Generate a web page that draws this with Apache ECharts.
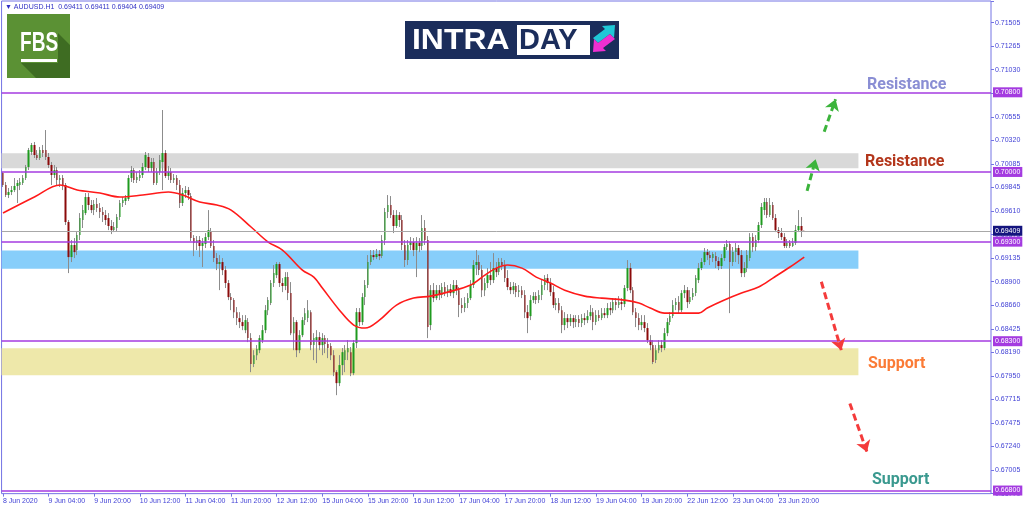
<!DOCTYPE html>
<html><head><meta charset="utf-8">
<script src="https://cdn.jsdelivr.net/npm/echarts@6/dist/echarts.min.js"></script>
<style>html,body{margin:0;padding:0;background:#fff}#c{width:1024px;height:511px}</style>
</head><body><div id="c"></div>
<script>
// ---- data ----
const xTickLabels = ['8 Jun 2020','9 Jun 04:00','9 Jun 20:00','10 Jun 12:00','11 Jun 04:00','11 Jun 20:00','12 Jun 12:00','15 Jun 04:00','15 Jun 20:00','16 Jun 12:00','17 Jun 04:00','17 Jun 20:00','18 Jun 12:00','19 Jun 04:00','19 Jun 20:00','22 Jun 12:00','23 Jun 04:00','23 Jun 20:00'];
const barsPerLabel = 16;
const slotCount = 347;
const yTickLabels = ['0.66770','0.67005','0.67240','0.67475','0.67715','0.67950','0.68190','0.68425','0.68660','0.68900','0.69135','0.69375','0.69610','0.69845','0.70085','0.70320','0.70555','0.70790','0.71030','0.71265','0.71505'];
const Y_MIN = 0.667688, Y_MAX = 0.717171, Y_STEP = 0.0023657;

const openP = [0.69989,0.69869,0.69768,0.69798,0.69818,0.69859,0.69869,0.69889,0.69939,0.70050,
0.70200,0.70271,0.70170,0.70140,0.70220,0.70220,0.70150,0.70070,0.69969,0.70019,
0.69919,0.69939,0.69869,0.69497,0.69145,0.69266,0.69215,0.69366,0.69517,0.69587,
0.69748,0.69668,0.69617,0.69678,0.69638,0.69597,0.69567,0.69537,0.69457,0.69416,
0.69437,0.69547,0.69688,0.69708,0.69728,0.69939,0.70019,0.69919,0.69939,0.69969,
0.70050,0.70150,0.70040,0.70100,0.69889,0.69999,0.70100,0.70190,0.69959,0.69999,
0.69919,0.69939,0.69869,0.69688,0.69788,0.69818,0.69758,0.69336,0.69286,0.69316,
0.69256,0.69276,0.69346,0.69396,0.69256,0.69135,0.69075,0.69095,0.69014,0.68884,
0.68743,0.68713,0.68592,0.68532,0.68492,0.68411,0.68492,0.68331,0.68070,0.68160,
0.68210,0.68311,0.68411,0.68612,0.68683,0.68884,0.68964,0.69075,0.68884,0.68854,
0.68944,0.68783,0.68381,0.68492,0.68210,0.68361,0.68512,0.68532,0.68592,0.68261,
0.68311,0.68341,0.68261,0.68331,0.68271,0.68251,0.68160,0.67989,0.67879,0.68060,
0.68110,0.68190,0.68190,0.67979,0.68281,0.68592,0.68492,0.68743,0.68864,0.69095,
0.69165,0.69145,0.69175,0.69155,0.69316,0.69597,0.69668,0.69567,0.69457,0.69567,
0.69517,0.69266,0.69115,0.69266,0.69296,0.69215,0.69286,0.69256,0.69437,0.69316,
0.68462,0.68813,0.68733,0.68813,0.68763,0.68844,0.68793,0.68823,0.68783,0.68864,
0.68813,0.68663,0.68633,0.68683,0.68733,0.68864,0.69065,0.69095,0.69014,0.68813,
0.68884,0.68964,0.68914,0.69035,0.68994,0.69095,0.69065,0.68934,0.68844,0.68813,
0.68854,0.68793,0.68813,0.68763,0.68592,0.68552,0.68713,0.68753,0.68713,0.68763,
0.68864,0.68934,0.68884,0.68793,0.68663,0.68683,0.68612,0.68462,0.68532,0.68492,
0.68532,0.68492,0.68522,0.68482,0.68532,0.68512,0.68552,0.68592,0.68492,0.68562,
0.68532,0.68582,0.68562,0.68633,0.68612,0.68693,0.68663,0.68693,0.68673,0.68834,
0.69035,0.68813,0.68592,0.68532,0.68462,0.68492,0.68432,0.68311,0.68261,0.68110,
0.68210,0.68261,0.68231,0.68381,0.68492,0.68552,0.68663,0.68693,0.68612,0.68783,
0.68813,0.68693,0.68743,0.68783,0.68914,0.69035,0.69095,0.69195,0.69165,0.69135,
0.69155,0.69105,0.69055,0.69135,0.69246,0.69276,0.69095,0.69195,0.69236,0.69165,
0.68984,0.69035,0.69135,0.69346,0.69246,0.69316,0.69467,0.69618,0.69698,0.69567,
0.69668,0.69537,0.69416,0.69386,0.69346,0.69256,0.69286,0.69256,0.69286,0.69416,
0.69457,0.69411];

const closeP = [0.69869,0.69768,0.69798,0.69818,0.69859,0.69889,0.69899,0.69939,0.70050,0.70220,
0.70271,0.70170,0.70140,0.70220,0.70190,0.70150,0.70070,0.69969,0.70019,0.69919,
0.69939,0.69869,0.69497,0.69145,0.69266,0.69195,0.69366,0.69537,0.69617,0.69748,
0.69668,0.69617,0.69678,0.69638,0.69597,0.69567,0.69517,0.69457,0.69416,0.69447,
0.69547,0.69688,0.69718,0.69738,0.69939,0.70019,0.69919,0.69949,0.69969,0.70050,
0.70170,0.70040,0.70100,0.69889,0.69999,0.70120,0.70190,0.69959,0.69999,0.69919,
0.69939,0.69869,0.69688,0.69788,0.69818,0.69768,0.69336,0.69286,0.69316,0.69256,
0.69286,0.69346,0.69416,0.69256,0.69135,0.69075,0.69095,0.69014,0.68884,0.68743,
0.68713,0.68592,0.68532,0.68492,0.68452,0.68512,0.68331,0.68070,0.68160,0.68221,
0.68331,0.68411,0.68612,0.68713,0.68884,0.68984,0.69075,0.68884,0.68854,0.68944,
0.68783,0.68381,0.68492,0.68210,0.68361,0.68512,0.68582,0.68612,0.68261,0.68331,
0.68341,0.68261,0.68331,0.68271,0.68231,0.68160,0.67989,0.67879,0.68060,0.68190,
0.68210,0.68231,0.67979,0.68281,0.68592,0.68492,0.68743,0.68864,0.69095,0.69165,
0.69145,0.69175,0.69155,0.69316,0.69597,0.69668,0.69567,0.69457,0.69567,0.69517,
0.69266,0.69115,0.69266,0.69296,0.69215,0.69286,0.69256,0.69437,0.69316,0.68442,
0.68813,0.68733,0.68813,0.68763,0.68844,0.68793,0.68823,0.68783,0.68864,0.68813,
0.68663,0.68633,0.68683,0.68733,0.68864,0.69065,0.69095,0.69014,0.68813,0.68884,
0.68964,0.68914,0.69035,0.68994,0.69095,0.69065,0.68934,0.68844,0.68813,0.68854,
0.68793,0.68813,0.68763,0.68592,0.68532,0.68713,0.68753,0.68713,0.68763,0.68864,
0.68934,0.68884,0.68793,0.68663,0.68683,0.68612,0.68462,0.68532,0.68492,0.68532,
0.68492,0.68522,0.68482,0.68532,0.68512,0.68552,0.68592,0.68492,0.68562,0.68532,
0.68582,0.68562,0.68633,0.68612,0.68693,0.68663,0.68693,0.68673,0.68834,0.69035,
0.68813,0.68592,0.68532,0.68462,0.68492,0.68432,0.68311,0.68261,0.68090,0.68210,
0.68261,0.68231,0.68381,0.68492,0.68552,0.68663,0.68693,0.68612,0.68783,0.68813,
0.68693,0.68743,0.68783,0.68934,0.69035,0.69095,0.69195,0.69165,0.69135,0.69175,
0.69105,0.69055,0.69135,0.69246,0.69276,0.69095,0.69195,0.69236,0.69165,0.68984,
0.69035,0.69165,0.69346,0.69246,0.69316,0.69467,0.69648,0.69698,0.69567,0.69668,
0.69537,0.69416,0.69386,0.69346,0.69256,0.69286,0.69256,0.69286,0.69416,0.69457,
0.69411,0.69409];

const lowP = [0.69849,0.69748,0.69738,0.69768,0.69798,0.69688,0.69818,0.69869,0.69919,0.70019,
0.70170,0.70140,0.70120,0.70120,0.70150,0.70120,0.70040,0.69869,0.69939,0.69869,
0.69849,0.69818,0.69467,0.68984,0.69095,0.69135,0.69165,0.69316,0.69437,0.69567,
0.69617,0.69587,0.69567,0.69597,0.69537,0.69497,0.69467,0.69416,0.69376,0.69396,
0.69406,0.69517,0.69648,0.69668,0.69708,0.69899,0.69889,0.69889,0.69909,0.69939,
0.70019,0.69999,0.69999,0.69869,0.69869,0.69969,0.69818,0.69939,0.69919,0.69889,
0.69889,0.69818,0.69638,0.69658,0.69738,0.69718,0.69306,0.69155,0.69215,0.69145,
0.69045,0.69236,0.69316,0.69236,0.69095,0.69014,0.68813,0.68964,0.68834,0.68713,
0.68612,0.68532,0.68462,0.68432,0.68411,0.68381,0.68291,0.67989,0.68040,0.68110,
0.68180,0.68281,0.68381,0.68562,0.68663,0.68844,0.68934,0.68844,0.68793,0.68813,
0.68713,0.68361,0.68210,0.68140,0.68180,0.68341,0.68462,0.68492,0.68210,0.68110,
0.68080,0.68210,0.68160,0.68180,0.68130,0.68110,0.67949,0.67758,0.67849,0.67959,
0.67989,0.68110,0.67949,0.67959,0.68231,0.68452,0.68462,0.68663,0.68834,0.69065,
0.69115,0.69125,0.69115,0.69135,0.69266,0.69537,0.69537,0.69386,0.69437,0.69447,
0.69215,0.69045,0.69065,0.69215,0.69155,0.68944,0.69195,0.69215,0.69266,0.68331,
0.68411,0.68693,0.68713,0.68713,0.68733,0.68753,0.68743,0.68753,0.68733,0.68763,
0.68542,0.68582,0.68592,0.68633,0.68713,0.68834,0.68964,0.68964,0.68743,0.68753,
0.68834,0.68864,0.68884,0.68944,0.68964,0.69014,0.68894,0.68813,0.68773,0.68773,
0.68743,0.68743,0.68733,0.68532,0.68381,0.68512,0.68683,0.68673,0.68683,0.68713,
0.68813,0.68813,0.68753,0.68633,0.68612,0.68582,0.68381,0.68411,0.68432,0.68452,
0.68432,0.68442,0.68442,0.68442,0.68462,0.68482,0.68512,0.68411,0.68462,0.68502,
0.68512,0.68532,0.68532,0.68562,0.68582,0.68612,0.68633,0.68612,0.68643,0.68803,
0.68783,0.68562,0.68442,0.68411,0.68411,0.68391,0.68281,0.68210,0.68070,0.68080,
0.68180,0.68190,0.68210,0.68351,0.68462,0.68532,0.68612,0.68582,0.68592,0.68733,
0.68633,0.68673,0.68713,0.68753,0.68884,0.69014,0.69065,0.69115,0.69065,0.69095,
0.69035,0.69014,0.69025,0.69105,0.69215,0.68582,0.69055,0.69095,0.69075,0.68944,
0.68944,0.68994,0.69105,0.69195,0.69205,0.69286,0.69437,0.69567,0.69537,0.69547,
0.69517,0.69396,0.69336,0.69316,0.69236,0.69236,0.69236,0.69246,0.69266,0.69396,
0.69346,0.69404];

const highP = [0.69999,0.69899,0.69839,0.69859,0.69939,0.69919,0.69939,0.69969,0.70070,0.70241,
0.70291,0.70301,0.70220,0.70251,0.70271,0.70421,0.70190,0.70100,0.70070,0.70050,
0.69969,0.69969,0.69889,0.69517,0.69316,0.69336,0.69396,0.69587,0.69668,0.69788,
0.69788,0.69718,0.69718,0.69738,0.69688,0.69648,0.69617,0.69587,0.69517,0.69497,
0.69577,0.69718,0.69748,0.69768,0.69969,0.70060,0.70040,0.69999,0.70019,0.70090,
0.70200,0.70190,0.70140,0.70140,0.70040,0.70170,0.70622,0.70220,0.70060,0.70040,
0.69979,0.69969,0.69919,0.69839,0.69859,0.69849,0.69788,0.69366,0.69356,0.69356,
0.69336,0.69386,0.69617,0.69437,0.69316,0.69185,0.69165,0.69135,0.69055,0.68914,
0.68783,0.68733,0.68643,0.68592,0.68562,0.68562,0.68532,0.68381,0.68210,0.68261,
0.68361,0.68462,0.68663,0.68743,0.68914,0.69065,0.69095,0.69095,0.68934,0.68994,
0.68994,0.68894,0.68542,0.68512,0.68411,0.68542,0.68633,0.68713,0.68612,0.68381,
0.68411,0.68391,0.68381,0.68361,0.68331,0.68281,0.68210,0.68009,0.68160,0.68231,
0.68261,0.68311,0.68241,0.68311,0.68633,0.68633,0.68783,0.68914,0.69165,0.69215,
0.69215,0.69226,0.69215,0.69366,0.69638,0.69768,0.69758,0.69617,0.69617,0.69597,
0.69567,0.69316,0.69316,0.69346,0.69336,0.69346,0.69336,0.69567,0.69517,0.69356,
0.68864,0.68884,0.68864,0.68864,0.68884,0.68894,0.68864,0.68874,0.68914,0.68914,
0.68844,0.68733,0.68743,0.68783,0.68914,0.69115,0.69215,0.69165,0.69065,0.68934,
0.69035,0.69095,0.69185,0.69095,0.69135,0.69135,0.69115,0.69014,0.68894,0.68894,
0.68884,0.68864,0.68854,0.68813,0.68663,0.68763,0.68793,0.68793,0.68813,0.68914,
0.68964,0.68974,0.68934,0.68854,0.68733,0.68733,0.68653,0.68592,0.68572,0.68572,
0.68562,0.68562,0.68562,0.68572,0.68582,0.68612,0.68663,0.68633,0.68612,0.68612,
0.68633,0.68633,0.68683,0.68693,0.68733,0.68733,0.68753,0.68733,0.68864,0.69115,
0.69085,0.68844,0.68633,0.68582,0.68562,0.68562,0.68482,0.68361,0.68311,0.68261,
0.68311,0.68311,0.68432,0.68532,0.68592,0.68713,0.68733,0.68753,0.68813,0.68864,
0.68844,0.68813,0.68834,0.68964,0.69085,0.69135,0.69236,0.69226,0.69205,0.69195,
0.69195,0.69145,0.69175,0.69276,0.69316,0.69306,0.69246,0.69286,0.69266,0.69215,
0.69095,0.69215,0.69386,0.69386,0.69366,0.69497,0.69688,0.69738,0.69738,0.69738,
0.69698,0.69577,0.69446,0.69437,0.69386,0.69326,0.69316,0.69336,0.69467,0.69617,
0.69547,0.69411];

// moving average, read at sample bars
const maIndex = [0,11,20,26,34,41,49,58,63,69,75,80,87,93,98,105,109,112,118,123,127,132,138,144,150,156,164,169,173,177,182,187,192,197,204,210,218,223,227,232,238,244,247,253,259,265,270,276,281];
const maValue = [0.69587,0.69748,0.69869,0.69818,0.69788,0.69748,0.69768,0.69798,0.69768,0.69698,0.69668,0.69617,0.69447,0.69296,0.69215,0.69014,0.68944,0.68834,0.68612,0.68462,0.68432,0.68512,0.68663,0.68733,0.68753,0.68793,0.68864,0.68964,0.69034,0.69065,0.69034,0.68944,0.68884,0.68813,0.68753,0.68733,0.68713,0.68683,0.68633,0.68582,0.68582,0.68582,0.68633,0.68713,0.68783,0.68844,0.68934,0.69045,0.69145];

const levels = [0.70800, 0.70000, 0.69300, 0.68300, 0.66800];
const lastPrice = 0.69409;
const zoneGrey = [0.70037, 0.70187];
const zoneBlue = [0.69027, 0.69210];
const zoneYellow = [0.67959, 0.68228];
const zoneEndBar = 300;
// arrows: [bar index, price] start -> end
const arrowsUp = [[[282.1, 0.69811], [285.2, 0.70127]], [[288.3, 0.70404], [292.4, 0.70730]]];
const arrowsDown = [[[286.6, 0.68897], [293.6, 0.68210]], [[297.3, 0.67675], [303.1, 0.67188]]];

// ---- styles ----
const BORDER = '#7474e4', LABEL = '#4343d6', PURPLE = '#a43be0', NAVY = '#14147e';
const WICK = '#8c8c8c', BULL = '#1f9a1f', BEAR = '#8b0a0a';

const candleData = openP.map((o, i) => [o, closeP[i], lowP[i], highP[i]]);
const bodyData = openP.map((o, i) => [o, closeP[i], Math.min(o, closeP[i]), Math.max(o, closeP[i])]);
const categories = Array.from({length: slotCount}, (_, i) => String(i));
const maData = maIndex.map((k, i) => [k, maValue[i]]);
const showTick = (idx) => idx % barsPerLabel === 0 && idx / barsPerLabel < xTickLabels.length;

const zone = (z, color) => [{yAxis: z[1], itemStyle: {color: color, opacity: 1}}, {yAxis: z[0], xAxis: zoneEndBar}];
const lvlLabel = (txt, bg) => ({show: true, position: 'end', formatter: txt, backgroundColor: bg, color: '#fff',
  fontSize: 7, fontFamily: 'Liberation Sans', padding: [2, 2, 1, 2], distance: 2});
const arrowItem = (a, color) => [{coord: a[0], lineStyle: {color: color, width: 3, type: [7, 4]}}, {coord: a[1]}];

const chart = echarts.init(document.getElementById('c'));
chart.setOption({
  animation: false,
  grid: {left: 1, right: 33, top: 1, bottom: 17.35, show: true, borderColor: BORDER, borderWidth: 1, backgroundColor: 'transparent'},
  xAxis: {
    type: 'category', data: categories, boundaryGap: true,
    axisLine: {show: false},
    axisTick: {show: true, interval: showTick, alignWithLabel: true, length: 3, lineStyle: {color: BORDER}},
    axisLabel: {interval: showTick, formatter: (v, idx) => xTickLabels[idx / barsPerLabel] || '', align: 'left',
      fontSize: 7, color: LABEL, fontFamily: 'Liberation Sans', margin: 4},
    splitLine: {show: false}
  },
  yAxis: {
    type: 'value', position: 'right', min: Y_MIN, max: Y_MAX, interval: Y_STEP,
    axisLine: {show: false},
    axisTick: {show: true, length: 3, lineStyle: {color: BORDER}},
    axisLabel: {formatter: (v) => yTickLabels[Math.round((v - Y_MIN) / Y_STEP)] || '', fontSize: 7, color: LABEL,
      fontFamily: 'Liberation Sans', margin: 4},
    splitLine: {show: false}
  },
  series: [
    {
      type: 'candlestick', data: candleData, barWidth: 1, z: 2, silent: true,
      itemStyle: {color: WICK, color0: WICK, borderColor: WICK, borderColor0: WICK, borderWidth: 1},
      markArea: {silent: true, data: [zone(zoneGrey, '#d9d9d9'), zone(zoneBlue, '#87cefa'), zone(zoneYellow, '#eee8aa')]}
    },
    {
      type: 'candlestick', data: bodyData, barWidth: 2, z: 3, silent: true,
      itemStyle: {color: BULL, color0: BEAR, borderColor: BULL, borderColor0: BEAR, borderWidth: 0},
      markLine: {
        silent: true, symbol: ['none', 'none'], precision: 6,
        data: levels.map(v => ({yAxis: v, lineStyle: {color: PURPLE, width: 1.5, type: 'solid'}, label: lvlLabel(v.toFixed(5), PURPLE)}))
          .concat([{yAxis: lastPrice, lineStyle: {color: '#a8a8a8', width: 1, type: 'solid'}, label: lvlLabel(lastPrice.toFixed(5), NAVY)}])
      }
    },
    {
      type: 'line', data: maData, smooth: 0.35, symbol: 'none', z: 4, silent: true,
      lineStyle: {color: '#ff1a1a', width: 1.6},
      markLine: {
        silent: true, symbol: ['none', 'arrow'], symbolSize: 11, precision: 6, label: {show: false},
        data: arrowsUp.map(a => arrowItem(a, '#3cb43c')).concat(arrowsDown.map(a => arrowItem(a, '#f43b3b')))
      }
    }
  ],
  graphic: [
    {type: 'text', x: 5, y: 7, style: {text: '▼ AUDUSD.H1  0.69411 0.69411 0.69404 0.69409', fill: '#2f2fc4', fontSize: 7, fontFamily: 'Liberation Sans', verticalAlign: 'middle', align: 'left'}},
    {type: 'rect', shape: {x: 7, y: 14, width: 63, height: 64}, style: {fill: '#5b9134'}},
    {type: 'polygon', shape: {points: [[58, 33], [70, 45], [70, 78], [36, 78], [21, 63], [58, 63]]}, style: {fill: '#3e6c22'}},
    {type: 'text', x: 20, y: 43, scaleX: 0.68, style: {text: 'FBS', fill: '#fff', fontSize: 28, fontWeight: 'bold', fontFamily: 'Liberation Sans', verticalAlign: 'middle', align: 'left'}},
    {type: 'rect', shape: {x: 21, y: 59, width: 36, height: 3}, style: {fill: '#fff'}},
    {type: 'rect', shape: {x: 405, y: 21, width: 214, height: 38}, style: {fill: '#1b2d5b'}},
    {type: 'text', x: 412, y: 41, scaleX: 1.1, style: {text: 'INTRA', fill: '#fff', fontSize: 29, fontWeight: 'bold', fontFamily: 'Liberation Sans', verticalAlign: 'middle', align: 'left'}},
    {type: 'rect', shape: {x: 517, y: 25, width: 73, height: 30}, style: {fill: '#fff'}},
    {type: 'text', x: 519, y: 41, style: {text: 'DAY', fill: '#1b2d5b', fontSize: 29, fontWeight: 'bold', fontFamily: 'Liberation Sans', verticalAlign: 'middle', align: 'left'}},
    {type: 'polygon', shape: {points: [[615, 25], [614, 38], [610, 34], [598, 43], [593, 38], [605, 29], [602, 26]]}, style: {fill: '#1fc7d6'}},
    {type: 'polygon', shape: {points: [[593, 52], [594, 39], [598, 43], [610, 34], [615, 39], [603, 48], [606, 51]]}, style: {fill: '#ee2fd2'}},
    {type: 'text', x: 867, y: 85, style: {text: 'Resistance', fill: '#8a8ed4', fontSize: 16, fontWeight: 'bold', fontFamily: 'Roboto', verticalAlign: 'middle', align: 'left'}},
    {type: 'text', x: 865, y: 162, style: {text: 'Resistance', fill: '#b3361b', fontSize: 16, fontWeight: 'bold', fontFamily: 'Roboto', verticalAlign: 'middle', align: 'left'}},
    {type: 'text', x: 868, y: 364, style: {text: 'Support', fill: '#fb7b36', fontSize: 16, fontWeight: 'bold', fontFamily: 'Roboto', verticalAlign: 'middle', align: 'left'}},
    {type: 'text', x: 872, y: 480, style: {text: 'Support', fill: '#3a998f', fontSize: 16, fontWeight: 'bold', fontFamily: 'Roboto', verticalAlign: 'middle', align: 'left'}}
  ]
});
</script>
</body></html>
